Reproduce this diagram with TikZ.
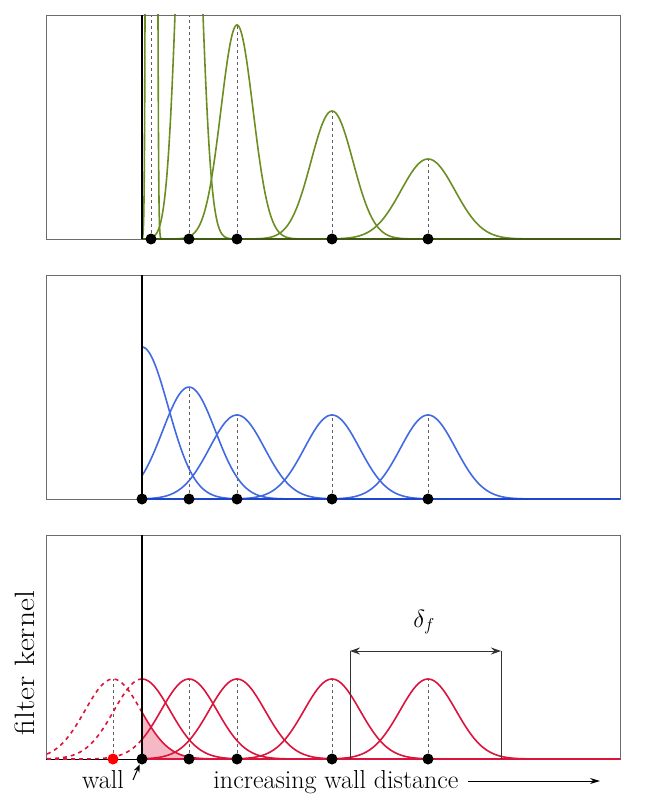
\documentclass[tikz,border=0pt]{standalone}
\usetikzlibrary{arrows.meta}
\definecolor{kgreen}{RGB}{107,142,35}
\definecolor{kgreendark}{RGB}{65,90,20}
\definecolor{kblue}{RGB}{65,105,225}
\definecolor{kbluedark}{RGB}{30,70,205}
\definecolor{kred}{RGB}{220,20,60}
\begin{document}
\begin{tikzpicture}[x=1pt,y=-1pt,
  declare function={G(\x,\c,\s,\l)=exp(min(\l-0.5*(min(abs(\x-\c),8*\s)/\s)^2,6));},
  frame/.style={draw=gray!85!black, line width=0.9pt},
  wallline/.style={line width=2.3pt, black},
  curve/.style={line width=1.6pt},
  dcurve/.style={line width=1.6pt, dash pattern=on 4pt off 4pt},
  guide/.style={dash pattern=on 3pt off 3pt, line width=0.7pt, gray!75!black},
  dot/.style={circle, fill=black, inner sep=0pt, minimum size=11pt},
  lbl/.style={font=\fontsize{26}{30}\selectfont},
  dim/.style={line width=0.9pt, black!80},
]
\useasboundingbox (0,0) rectangle (665,799);

%% ---------------- panel 1 (green) ----------------
\begin{scope}
\clip (46,15) rectangle (620,239);
\draw[guide] (151,239) -- (151,15);
\draw[guide] (189,239) -- (189,15);
\draw[guide] (237,239) -- (237,25);
\draw[guide] (332,239) -- (332,111);
\draw[guide] (428,239) -- (428,159);
\draw[curve,kgreen] plot[domain=142:175, samples=400, smooth] (\x,{239-G(\x,151.5,2,10.7)});
\draw[curve,kgreen] plot[domain=142:260, samples=300, smooth] (\x,{239-G(\x,189,10.8,6.254)});
\draw[curve,kgreen] plot[domain=142:340, samples=300, smooth] (\x,{239-G(\x,237,16,5.366)});
\draw[curve,kgreen] plot[domain=142:500, samples=300, smooth] (\x,{239-G(\x,332,21,4.852)});
\draw[curve,kgreen] plot[domain=142:620, samples=300, smooth] (\x,{239-G(\x,428,27,4.382)});
\end{scope}
\draw[frame] (46,15) rectangle (620,239);
\draw[line width=2pt, kgreendark] (142,239) -- (620,239);
\draw[wallline] (142,239) -- (142,15);
\node[dot] (g1) at (151,239) {};
\node[dot] (g2) at (189,239) {};
\node[dot] (g3) at (237,239) {};
\node[dot] (g4) at (332,239) {};
\node[dot] (g5) at (428,239) {};

%% ---------------- panel 2 (blue) ----------------
\draw[guide] (189,499) -- (189,387);
\draw[guide] (237,499) -- (237,415);
\draw[guide] (332,499) -- (332,415);
\draw[guide] (428,499) -- (428,415);
\draw[curve,kblue] plot[domain=142:620, samples=300, smooth] (\x,{499-G(\x,142,26.2,5.024)});
\draw[curve,kblue] plot[domain=142:620, samples=300, smooth] (\x,{499-G(\x,189,26.5,4.718)});
\draw[curve,kblue] plot[domain=142:620, samples=300, smooth] (\x,{499-G(\x,237,27.5,4.431)});
\draw[curve,kblue] plot[domain=142:620, samples=300, smooth] (\x,{499-G(\x,332,27.5,4.431)});
\draw[curve,kblue] plot[domain=142:620, samples=300, smooth] (\x,{499-G(\x,428,27.5,4.431)});
\draw[frame] (46,275) rectangle (620,499);
\draw[line width=2pt, kbluedark] (142,499) -- (620,499);
\draw[wallline] (142,499) -- (142,275);
\node[dot] (b1) at (142,499) {};
\node[dot] (b2) at (189,499) {};
\node[dot] (b3) at (237,499) {};
\node[dot] (b4) at (332,499) {};
\node[dot] (b5) at (428,499) {};

%% ---------------- panel 3 (red) ----------------
\fill[kred!30] plot[domain=142:260, samples=200, smooth] (\x,{759-G(\x,113,28,4.382)}) -- (260,759) -- (142,759) -- cycle;
\draw[frame] (46,535) rectangle (620,759);
\draw[line width=1pt, black] (46,759) -- (620,759);
\draw[guide] (113,759) -- (113,679);
\draw[guide] (189,759) -- (189,679);
\draw[guide] (237,759) -- (237,679);
\draw[guide] (332,759) -- (332,679);
\draw[guide] (428,759) -- (428,679);
\draw[dcurve,kred] plot[domain=47:142, samples=120, smooth] (\x,{759-G(\x,113,28,4.382)});
\draw[dcurve,kred] plot[domain=47:142, samples=120, smooth] (\x,{759-G(\x,142,28,4.382)});
\draw[dcurve,kred] plot[domain=47:142, samples=120, smooth] (\x,{759-G(\x,189,28,4.382)});
\draw[curve,kred] plot[domain=142:260, samples=200, smooth] (\x,{759-G(\x,113,28,4.382)});
\draw[curve,kred] plot[domain=142:620, samples=300, smooth] (\x,{759-G(\x,142,28,4.382)});
\draw[curve,kred] plot[domain=142:620, samples=300, smooth] (\x,{759-G(\x,189,28,4.382)});
\draw[curve,kred] plot[domain=142:620, samples=300, smooth] (\x,{759-G(\x,237,28,4.382)});
\draw[curve,kred] plot[domain=142:620, samples=300, smooth] (\x,{759-G(\x,332,28,4.382)});
\draw[curve,kred] plot[domain=142:620, samples=300, smooth] (\x,{759-G(\x,428,28,4.382)});
\draw[line width=1.2pt, kred] (142,759) -- (620,759);
\draw[wallline] (142,759) -- (142,535);
\node[dot, fill=red] (r0) at (113,759) {};
\node[dot] (r1) at (142,759) {};
\node[dot] (r2) at (189,759) {};
\node[dot] (r3) at (237,759) {};
\node[dot] (r4) at (332,759) {};
\node[dot] (r5) at (428,759) {};

% delta_f dimension
\coordinate (dL0) at (350,759);
\coordinate (dL1) at (350,651);
\coordinate (dR0) at (501,759);
\coordinate (dR1) at (501,651);
\draw[dim] (dL0) -- (dL1);
\draw[dim] (dR0) -- (dR1);
\draw[dim, {Stealth[length=10pt,width=7pt]}-{Stealth[length=10pt,width=7pt]}] (dL1) -- (dR1);
\node[lbl] (delta) at (424,622) {$\delta_f$};

% labels
\node[font=\fontsize{28}{32}\selectfont, rotate=90, xscale=1.13] (ylab) at (25,663) {filter kernel};
\node[lbl, anchor=base] (walllbl) at (103,788) {wall};
\node[lbl, anchor=base] (distlbl) at (336,788) {increasing wall distance};
\coordinate (wallA) at (133,780);
\draw[line width=1pt, -{Stealth[length=8pt,width=6pt]}] (wallA) -- (r1);
\coordinate (distA) at (468,781);
\coordinate (distB) at (600,781);
\draw[line width=1pt, -{Stealth[length=10pt,width=6pt]}] (distA) -- (distB);
\end{tikzpicture}
\end{document}
